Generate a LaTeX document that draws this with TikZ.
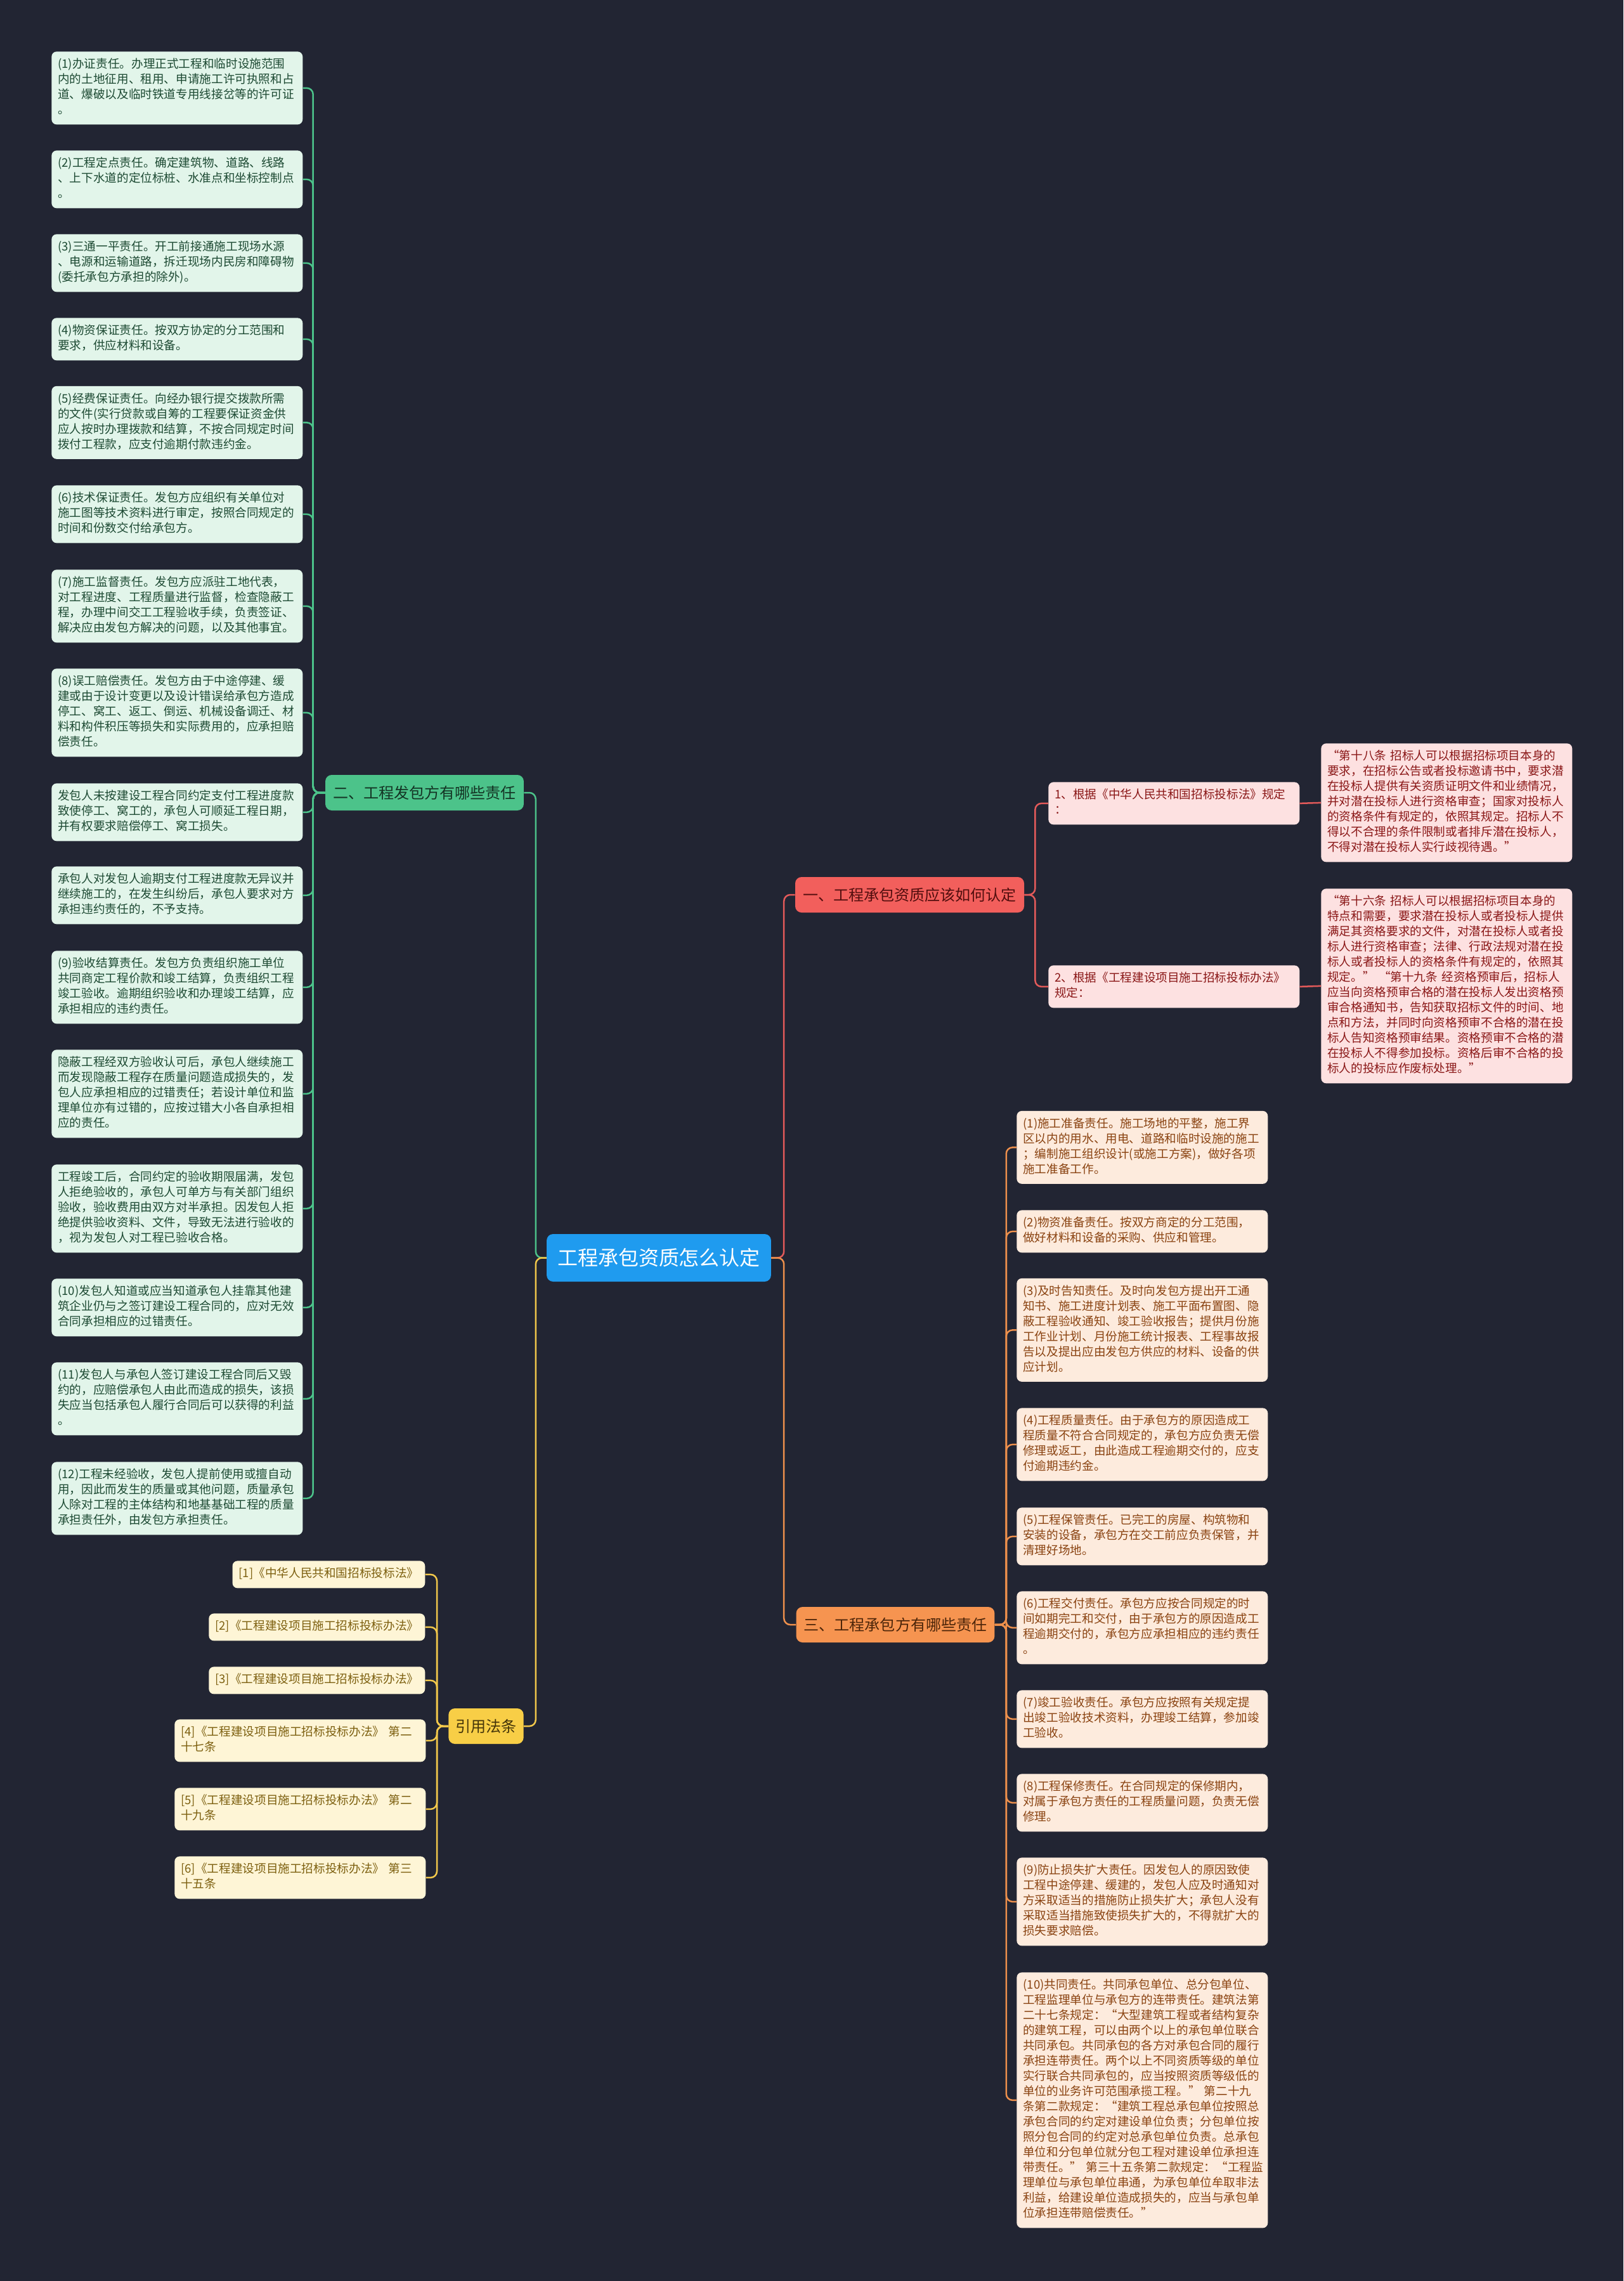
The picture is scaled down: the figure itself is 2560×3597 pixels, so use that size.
\documentclass[tikz,border=0pt]{standalone}
\usepackage{fontspec}
\setmainfont{Noto Sans CJK SC}
\usepackage{xcolor}

\definecolor{mapbg}{HTML}{222533}
\definecolor{rootfill}{HTML}{1F9BEF}
\definecolor{greenline}{HTML}{4CC38A}
\definecolor{greenleaf}{HTML}{E2F5EA}
\definecolor{greentext}{HTML}{1D4A33}
\definecolor{redline}{HTML}{E35A5A}
\definecolor{redfill}{HTML}{F25F5C}
\definecolor{redleaf}{HTML}{FDE1E1}
\definecolor{redtext}{HTML}{8A1717}
\definecolor{orangeline}{HTML}{EE904C}
\definecolor{orangefill}{HTML}{F69450}
\definecolor{orangeleaf}{HTML}{FDEBDD}
\definecolor{orangetext}{HTML}{8A4311}
\definecolor{yellowline}{HTML}{F2C84B}
\definecolor{yellowfill}{HTML}{F8CE46}
\definecolor{yellowleaf}{HTML}{FEF5D6}
\definecolor{yellowtext}{HTML}{7D6010}

\newcommand\leaffont{\fontsize{10.6pt}{13.66pt}\selectfont}
\newcommand\branchfont{\fontsize{13.7pt}{16pt}\selectfont}
\newcommand\rootfont{\fontsize{18.2pt}{22pt}\selectfont}

\tikzset{
    leaf base/.style={
        rounded corners=0.16cm,
        inner xsep=0.2cm,
        inner ysep=0.19cm,
        font=\leaffont,
        execute at begin node=\strut,
        execute at end node=\strut,
    },
    leaf/.style={
        leaf base,
        align=left,
        text width=7.52cm,
        anchor=north west,
    },
    short leaf/.style={
        leaf base,
        anchor=north east,
    },
    green leaf/.style={leaf, fill=greenleaf, text=greentext},
    red leaf/.style={leaf, fill=redleaf, text=redtext},
    orange leaf/.style={leaf, fill=orangeleaf, text=orangetext},
    yellow leaf/.style={leaf, fill=yellowleaf, text=yellowtext},
    yellow short leaf/.style={short leaf, fill=yellowleaf, text=yellowtext},
    branch/.style={
        rounded corners=0.2cm,
        minimum height=1.12cm,
        inner xsep=0.24cm,
        font=\branchfont,
    },
    root node/.style={
        rounded corners=0.2cm,
        fill=rootfill,
        text=white,
        minimum height=1.5cm,
        inner xsep=0.34cm,
        font=\rootfont,
    },
    link/.style={
        line width=0.05cm,
        rounded corners=0.2cm,
    },
}

\begin{document}
\begin{tikzpicture}[x=0.02cm, y=-0.02cm]

    \fill[mapbg] (0,0) rectangle (2560,3597);
    \useasboundingbox (0,0) rectangle (2560,3597);

    % centre and main branches
    \node[root node] (root) at (1039,1983.5) {工程承包资质怎么认定};
    \node[branch, fill=redfill, text=redtext!60!black] (one) at (1434.5,1411) {一、工程承包资质应该如何认定};
    \node[branch, fill=greenline, text=greentext!70!black] (two) at (669.5,1250) {二、工程发包方有哪些责任};
    \node[branch, fill=orangefill, text=orangetext!55!black] (three) at (1412,2562) {三、工程承包方有哪些责任};
    \node[branch, fill=yellowfill, text=yellowtext!55!black, inner xsep=0.22cm] (law) at (766.5,2722) {引用法条};

    % 一
    \node[red leaf] (r1) at (1653,1233) {1、根据《中华人民共和国招标投标法》规定\\：};
    \node[red leaf] (r2) at (1653,1522) {2、根据《工程建设项目施工招标投标办法》\\规定：};
    \node[red leaf] (d1) at (2083,1172) {“第十八条~招标人可以根据招标项目本身的\\要求，在招标公告或者投标邀请书中，要求潜\\在投标人提供有关资质证明文件和业绩情况，\\并对潜在投标人进行资格审查；国家对投标人\\的资格条件有规定的，依照其规定。招标人不\\得以不合理的条件限制或者排斥潜在投标人，\\不得对潜在投标人实行歧视待遇。”};
    \node[red leaf] (d2) at (2083,1401) {“第十六条~招标人可以根据招标项目本身的\\特点和需要，要求潜在投标人或者投标人提供\\满足其资格要求的文件，对潜在投标人或者投\\标人进行资格审查；法律、行政法规对潜在投\\标人或者投标人的资格条件有规定的，依照其\\规定。”~“第十九条~经资格预审后，招标人\\应当向资格预审合格的潜在投标人发出资格预\\审合格通知书，告知获取招标文件的时间、地\\点和方法，并同时向资格预审不合格的潜在投\\标人告知资格预审结果。资格预审不合格的潜\\在投标人不得参加投标。资格后审不合格的投\\标人的投标应作废标处理。”};

    % 二
    \node[green leaf] (g1) at (81,81) {(1)办证责任。办理正式工程和临时设施范围\\内的土地征用、租用、申请施工许可执照和占\\道、爆破以及临时铁道专用线接岔等的许可证\\。};
    \node[green leaf] (g2) at (81,237) {(2)工程定点责任。确定建筑物、道路、线路\\、上下水道的定位标桩、水准点和坐标控制点\\。};
    \node[green leaf] (g3) at (81,369) {(3)三通一平责任。开工前接通施工现场水源\\、电源和运输道路，拆迁现场内民房和障碍物\\(委托承包方承担的除外)。};
    \node[green leaf] (g4) at (81,501) {(4)物资保证责任。按双方协定的分工范围和\\要求，供应材料和设备。};
    \node[green leaf] (g5) at (81,608.5) {(5)经费保证责任。向经办银行提交拨款所需\\的文件(实行贷款或自筹的工程要保证资金供\\应人按时办理拨款和结算，不按合同规定时间\\拨付工程款，应支付逾期付款违约金。};
    \node[green leaf] (g6) at (81,765) {(6)技术保证责任。发包方应组织有关单位对\\施工图等技术资料进行审定，按照合同规定的\\时间和份数交付给承包方。};
    \node[green leaf] (g7) at (81,898) {(7)施工监督责任。发包方应派驻工地代表，\\对工程进度、工程质量进行监督，检查隐蔽工\\程，办理中间交工工程验收手续，负责签证、\\解决应由发包方解决的问题，以及其他事宜。};
    \node[green leaf] (g8) at (81,1054) {(8)误工赔偿责任。发包方由于中途停建、缓\\建或由于设计变更以及设计错误给承包方造成\\停工、窝工、返工、倒运、机械设备调迁、材\\料和构件积压等损失和实际费用的，应承担赔\\偿责任。};
    \node[green leaf] (g9) at (81,1235) {发包人未按建设工程合同约定支付工程进度款\\致使停工、窝工的，承包人可顺延工程日期，\\并有权要求赔偿停工、窝工损失。};
    \node[green leaf] (g10) at (81,1366) {承包人对发包人逾期支付工程进度款无异议并\\继续施工的，在发生纠纷后，承包人要求对方\\承担违约责任的，不予支持。};
    \node[green leaf] (g11) at (81,1499) {(9)验收结算责任。发包方负责组织施工单位\\共同商定工程价款和竣工结算，负责组织工程\\竣工验收。逾期组织验收和办理竣工结算，应\\承担相应的违约责任。};
    \node[green leaf] (g12) at (81,1655) {隐蔽工程经双方验收认可后，承包人继续施工\\而发现隐蔽工程存在质量问题造成损失的，发\\包人应承担相应的过错责任；若设计单位和监\\理单位亦有过错的，应按过错大小各自承担相\\应的责任。};
    \node[green leaf] (g13) at (81,1836) {工程竣工后，合同约定的验收期限届满，发包\\人拒绝验收的，承包人可单方与有关部门组织\\验收，验收费用由双方对半承担。因发包人拒\\绝提供验收资料、文件，导致无法进行验收的\\，视为发包人对工程已验收合格。};
    \node[green leaf] (g14) at (81,2016) {(10)发包人知道或应当知道承包人挂靠其他建\\筑企业仍与之签订建设工程合同的，应对无效\\合同承担相应的过错责任。};
    \node[green leaf] (g15) at (81,2148) {(11)发包人与承包人签订建设工程合同后又毁\\约的，应赔偿承包人由此而造成的损失，该损\\失应当包括承包人履行合同后可以获得的利益\\。};
    \node[green leaf] (g16) at (81,2305) {(12)工程未经验收，发包人提前使用或擅自动\\用，因此而发生的质量或其他问题，质量承包\\人除对工程的主体结构和地基基础工程的质量\\承担责任外，由发包方承担责任。};

    % 三
    \node[orange leaf] (o1) at (1603,1751.5) {(1)施工准备责任。施工场地的平整，施工界\\区以内的用水、用电、道路和临时设施的施工\\；编制施工组织设计(或施工方案)，做好各项\\施工准备工作。};
    \node[orange leaf] (o2) at (1603,1908) {(2)物资准备责任。按双方商定的分工范围，\\做好材料和设备的采购、供应和管理。};
    \node[orange leaf] (o3) at (1603,2015.5) {(3)及时告知责任。及时向发包方提出开工通\\知书、施工进度计划表、施工平面布置图、隐\\蔽工程验收通知、竣工验收报告；提供月份施\\工作业计划、月份施工统计报表、工程事故报\\告以及提出应由发包方供应的材料、设备的供\\应计划。};
    \node[orange leaf] (o4) at (1603,2220) {(4)工程质量责任。由于承包方的原因造成工\\程质量不符合合同规定的，承包方应负责无偿\\修理或返工，由此造成工程逾期交付的，应支\\付逾期违约金。};
    \node[orange leaf] (o5) at (1603,2377) {(5)工程保管责任。已完工的房屋、构筑物和\\安装的设备，承包方在交工前应负责保管，并\\清理好场地。};
    \node[orange leaf] (o6) at (1603,2509) {(6)工程交付责任。承包方应按合同规定的时\\间如期完工和交付，由于承包方的原因造成工\\程逾期交付的，承包方应承担相应的违约责任\\。};
    \node[orange leaf] (o7) at (1603,2665) {(7)竣工验收责任。承包方应按照有关规定提\\出竣工验收技术资料，办理竣工结算，参加竣\\工验收。};
    \node[orange leaf] (o8) at (1603,2797) {(8)工程保修责任。在合同规定的保修期内，\\对属于承包方责任的工程质量问题，负责无偿\\修理。};
    \node[orange leaf] (o9) at (1603,2929) {(9)防止损失扩大责任。因发包人的原因致使\\工程中途停建、缓建的，发包人应及时通知对\\方采取适当的措施防止损失扩大；承包人没有\\采取适当措施致使损失扩大的，不得就扩大的\\损失要求赔偿。};
    \node[orange leaf] (o10) at (1603,3110) {(10)共同责任。共同承包单位、总分包单位、\\工程监理单位与承包方的连带责任。建筑法第\\二十七条规定：“大型建筑工程或者结构复杂\\的建筑工程，可以由两个以上的承包单位联合\\共同承包。共同承包的各方对承包合同的履行\\承担连带责任。两个以上不同资质等级的单位\\实行联合共同承包的，应当按照资质等级低的\\单位的业务许可范围承揽工程。”~第二十九\\条第二款规定：“建筑工程总承包单位按照总\\承包合同的约定对建设单位负责；分包单位按\\照分包合同的约定对总承包单位负责。总承包\\单位和分包单位就分包工程对建设单位承担连\\带责任。”~第三十五条第二款规定：“工程监\\理单位与承包单位串通，为承包单位牟取非法\\利益，给建设单位造成损失的，应当与承包单\\位承担连带赔偿责任。”};

    % 引用法条
    \node[yellow short leaf] (c1) at (670.6,2461) {[1]《中华人民共和国招标投标法》};
    \node[yellow short leaf] (c2) at (670.6,2544) {[2]《工程建设项目施工招标投标办法》};
    \node[yellow short leaf] (c3) at (670.6,2628) {[3]《工程建设项目施工招标投标办法》};
    \node[yellow leaf] (c4) at (275,2711) {[4]《工程建设项目施工招标投标办法》~第二\\十七条};
    \node[yellow leaf] (c5) at (275,2819) {[5]《工程建设项目施工招标投标办法》~第二\\十九条};
    \node[yellow leaf] (c6) at (275,2927) {[6]《工程建设项目施工招标投标办法》~第三\\十五条};

    % connectors
    \draw[link, greenline] (root.west) -- ++(-17,0) |- (two.east);
    \draw[link, yellowline] (root.west) -- ++(-17,0) |- (law.east);
    \draw[link, redline] (root.east) -- ++(20,0) |- (one.west);
    \draw[link, orangeline] (root.east) -- ++(20,0) |- (three.west);

    \foreach \i in {1,...,16}
        \draw[link, greenline] (two.west) -- ++(-19,0) |- (g\i.east);
    \foreach \i in {1,2}
    {
        \draw[link, redline] (one.east) -- ++(17,0) |- (r\i.west);
        \draw[link, redline] (r\i.east) -- (d\i.west);
    }
    \foreach \i in {1,...,10}
        \draw[link, orangeline] (three.east) -- ++(18,0) |- (o\i.west);
    \foreach \i in {1,...,6}
        \draw[link, yellowline] (law.west) -- ++(-18,0) |- (c\i.east);

\end{tikzpicture}
\end{document}
